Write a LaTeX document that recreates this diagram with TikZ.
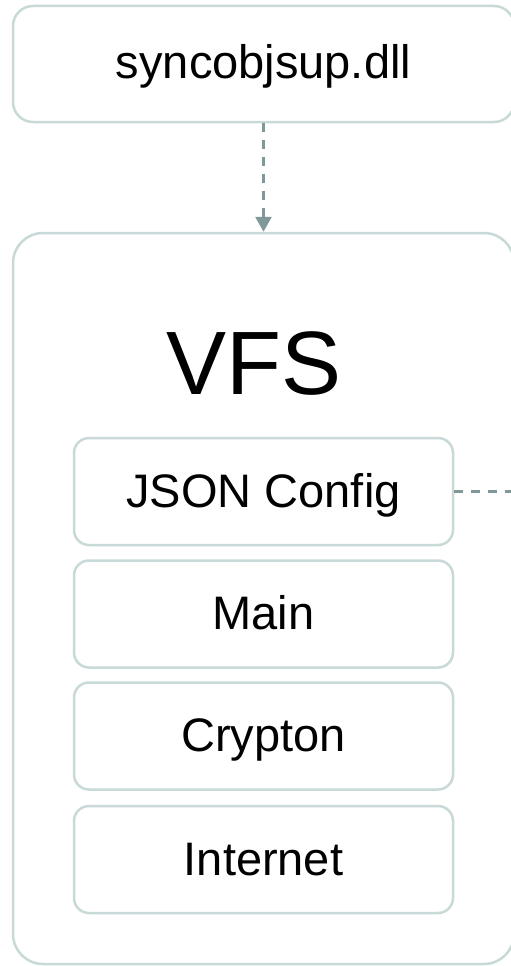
\documentclass[tikz,border=0pt]{standalone}
\usepackage{fontspec}
\setmainfont{Liberation Sans}
\usetikzlibrary{arrows.meta}

\definecolor{boxline}{HTML}{C8DAD8}
\definecolor{linkgray}{HTML}{7F9898}

\tikzset{
  panel/.style={draw=boxline, line width=2.5pt, fill=white, inner sep=0pt,
    rounded corners=#1},
  label46/.style={font=\fontsize{47}{50}\selectfont, text=black},
  layer/.style={panel=15pt, label46, minimum width=379pt, minimum height=107pt,
    text height=33pt, text depth=2pt},
  link/.style={draw=linkgray, line width=2.7pt, dash pattern=on 9pt off 8pt},
}

\begin{document}
\begin{tikzpicture}[x=1pt,y=-1pt]
  \useasboundingbox (0,0) rectangle (511,966);
  \fill[white] (0,0) rectangle (511,966);

  % module on top
  \node[panel=20pt, label46, minimum width=501pt, minimum height=116pt,
        text height=30pt, text depth=2pt] (dll) at (263.5,64) {syncobjsup.dll};

  % VFS container
  \node[panel=30pt, minimum width=501pt, minimum height=731pt] (vfs) at (263.5,598.5) {};
  \node[anchor=base, font=\fontsize{90}{94}\selectfont] (vfstitle) at (254,394) {VFS};

  % layers inside VFS
  \node[layer] (json) at (263.5,491.5) {JSON Config};
  \node[layer] (main) at (263.5,614) {Main};
  \node[layer] (crypton) at (263.5,736) {Crypton};
  \node[layer] (internet) at (263.5,859.5) {Internet};

  % connectors
  \draw[link, -{Triangle[width=16pt,length=15pt]}] (dll.south) -- (vfs.north);
  \coordinate (jsonout) at (525,491.5);
  \draw[link] (json.east) -- (jsonout);
\end{tikzpicture}
\end{document}
